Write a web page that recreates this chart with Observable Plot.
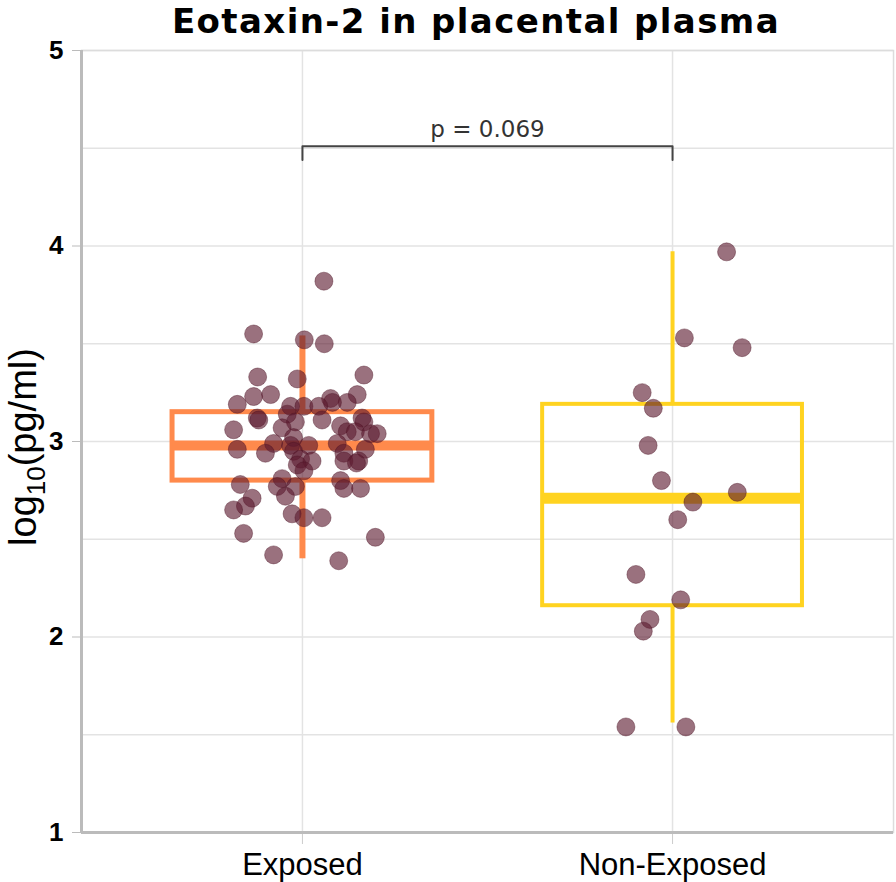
<!DOCTYPE html>
<html>
<head>
<meta charset="utf-8">
<script src="https://cdn.jsdelivr.net/npm/d3@7"></script>
<script src="https://cdn.jsdelivr.net/npm/@observablehq/plot@0.6"></script>
<style>
  body { margin: 0; background: #fff; }
  #wrap { position: relative; width: 896px; height: 882px; }
  #title { position: absolute; left: 0; top: 0; width: 896px; height: 42px; line-height: 42px; box-sizing: border-box; padding-left: 56px;
           text-align: center; font-family: "DejaVu Sans", Verdana, sans-serif; font-weight: bold; font-size: 34px; letter-spacing: 1.4px;
           color: #000; white-space: nowrap; z-index: 2; }
</style>
</head>
<body>
<div id="wrap">
<div id="chart"></div>
<div id="title">Eotaxin-2 in placental plasma</div>
</div>
<script>
// ---- data ----
const groups = ["Exposed", "Non-Exposed"];
const yTicks = [1, 2, 3, 4, 5];
const yGrid = [1, 1.5, 2, 2.5, 3, 3.5, 4, 4.5, 5];

// box statistics (log10 pg/ml)
const q1 = [2.80, 2.16];
const median = [2.98, 2.71];
const q3 = [3.15, 3.19];
const whiskerLow = [2.40, 1.56];
const whiskerHigh = [3.54, 3.97];
const boxColors = ["#FF8A4C", "#FFD320"];

// individual samples: value and horizontal jitter (in category units)
const exposedValues = [3.82, 3.55, 3.52, 3.50, 3.33, 3.32, 3.34, 3.19, 3.23, 3.24, 3.24, 3.20, 3.22, 3.20,
  3.18, 3.18, 3.18, 3.12, 3.11, 3.14, 3.11, 3.10, 3.12, 3.10, 3.06, 3.07, 3.08, 3.05, 3.05, 3.04, 3.04,
  3.02, 2.96, 2.99, 2.98, 2.98, 2.99, 2.96, 2.94, 2.95, 2.94, 2.91, 2.90, 2.90, 2.90, 2.89, 2.88, 2.85,
  2.78, 2.81, 2.77, 2.77, 2.80, 2.76, 2.76, 2.72, 2.71, 2.67, 2.65, 2.63, 2.61, 2.61, 2.53, 2.51, 2.42, 2.39];
const exposedJitter = [0.058, -0.132, 0.005, 0.059, -0.121, -0.014, 0.166, -0.176, -0.132, -0.086, 0.148, 0.121, 0.076, 0.081,
  -0.032, 0.004, 0.044, -0.122, -0.118, -0.041, 0.053, -0.019, 0.161, 0.166, -0.186, -0.055, 0.103, 0.121, 0.143, 0.184, 0.202,
  -0.024, -0.176, -0.078, -0.032, 0.017, 0.094, 0.170, -0.100, -0.024, 0.112, -0.005, 0.026, 0.112, 0.152, 0.146, -0.014, 0.004,
  -0.168, -0.055, -0.068, -0.019, 0.103, 0.112, 0.157, -0.046, -0.136, -0.154, -0.186, -0.028, 0.004, 0.053, -0.159, 0.197, -0.078, 0.098];
const nonExposedValues = [3.97, 3.53, 3.48, 3.25, 3.17, 2.98, 2.80, 2.74, 2.69, 2.60, 2.32, 2.19, 2.09, 2.03, 1.54, 1.54];
const nonExposedJitter = [0.146, 0.032, 0.188, -0.082, -0.052, -0.066, -0.030, 0.175, 0.055, 0.014, -0.099, 0.022, -0.061, -0.079, -0.126, 0.036];

// significance annotation
const pLabel = "p = 0.069";
const bracketTop = 4.51;
const bracketFoot = 4.44;

// ---- build tables ----
const boxHalf = 0.351;
const xPad = 0.597;
const stats = groups.map((g, i) => ({
  g, pos: i + 1, q1: q1[i], med: median[i], q3: q3[i], lo: whiskerLow[i], hi: whiskerHigh[i], color: boxColors[i]
}));
const points = [
  ...exposedValues.map((v, i) => ({ x: 1 + exposedJitter[i], y: v })),
  ...nonExposedValues.map((v, i) => ({ x: 2 + nonExposedJitter[i], y: v }))
];
const bracket = [
  { x: 1, y: bracketFoot }, { x: 1, y: bracketTop }, { x: 2, y: bracketTop }, { x: 2, y: bracketFoot }
];

const font = "'Liberation Sans', Arial, sans-serif";
const medWidth = [10, 11];
const boxWidth = [5, 4];
const whiskWidth = [6, 4];

const marks = [
  Plot.gridY(yGrid, { stroke: "#e3e3e3", strokeOpacity: 1, strokeWidth: 1.5 }),
  Plot.gridX([1, 2], { stroke: "#e3e3e3", strokeOpacity: 1, strokeWidth: 1.5 }),
  Plot.frame({ stroke: "#dcdcdc", strokeWidth: 1.5 })
];
stats.forEach((s, i) => {
  marks.push(
    Plot.ruleX([s], { x: "pos", y1: "lo", y2: "q1", stroke: s.color, strokeWidth: whiskWidth[i] }),
    Plot.ruleX([s], { x: "pos", y1: "q3", y2: "hi", stroke: s.color, strokeWidth: whiskWidth[i] }),
    Plot.rect([s], { x1: d => d.pos - boxHalf, x2: d => d.pos + boxHalf, y1: "q1", y2: "q3",
      fill: "none", stroke: s.color, strokeWidth: boxWidth[i] }),
    Plot.ruleY([s], { y: "med", x1: d => d.pos - boxHalf, x2: d => d.pos + boxHalf, stroke: s.color, strokeWidth: medWidth[i] })
  );
});
marks.push(
  Plot.dot(points, { x: "x", y: "y", r: 9, fill: "#5c1a2e", fillOpacity: 0.62, stroke: "#4a1222", strokeOpacity: 0.4, strokeWidth: 1 }),
  Plot.line(bracket, { x: "x", y: "y", stroke: "#444", strokeWidth: 2 }),
  Plot.text([pLabel], { x: 1.5, y: bracketTop, text: d => d, dy: -9, lineAnchor: "bottom",
    fontSize: 23, fontFamily: "'DejaVu Sans', Verdana, sans-serif", fill: "#333" }),
  Plot.axisY({ ticks: yTicks, tickFormat: d => String(d), tickSize: 9, tickPadding: 9, fontSize: 26, fontWeight: "bold", label: null, stroke: "#bbb", fill: "#000" }),
  Plot.axisX({ ticks: [1, 2], tickFormat: d => groups[d - 1], tickSize: 12, tickPadding: 8, fontSize: 31, label: null, stroke: "#ccc", fill: "#000" }),
  Plot.ruleX([1 - xPad], { stroke: "#bbb", strokeWidth: 3 }),
  Plot.ruleY([1], { stroke: "#bbb", strokeWidth: 3 })
);

const chart = Plot.plot({
  width: 896,
  height: 882,
  marginTop: 50,
  marginBottom: 50,
  marginLeft: 81,
  marginRight: 3,
  style: { fontFamily: font, background: "#fff", color: "#000" },
  x: { domain: [1 - xPad, 2 + xPad] },
  y: { domain: [1, 5] },
  marks
});

// y-axis title with subscript
const svg = d3.select(chart);
const t = svg.append("text")
  .attr("transform", "translate(36,447) rotate(-90)")
  .attr("text-anchor", "middle")
  .attr("font-family", font)
  .attr("font-size", 38)
  .attr("fill", "#000");
t.append("tspan").text("log");
t.append("tspan").attr("font-size", 26).attr("dy", 9).text("10");
t.append("tspan").attr("dy", -9).text("(pg/ml)");

document.getElementById("chart").appendChild(chart);
</script>
</body>
</html>
